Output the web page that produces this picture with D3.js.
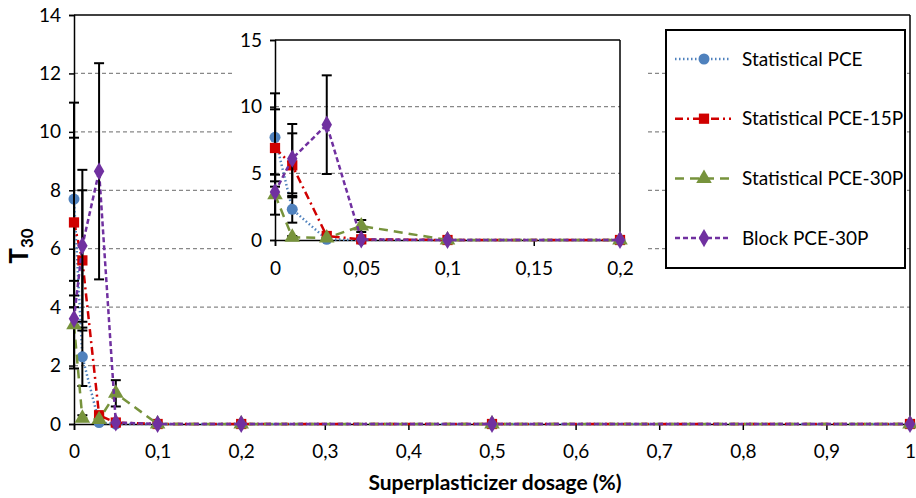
<!DOCTYPE html>
<html>
<head>
<meta charset="utf-8">
<script src="https://cdn.jsdelivr.net/npm/d3@7"></script>
<style>
  body { margin: 0; background: #fff; }
  text { font-family: Lato, "Open Sans", sans-serif; fill: #000; }
</style>
</head>
<body>
<div id="wrapper"></div>
<script>
// dosages (%) and T30 values
const dosages = [0, 0.01, 0.03, 0.05, 0.1, 0.2, 0.5, 1];
const pceVals = [7.7, 2.3, 0.05, 0, 0, 0, 0, 0];
const pceErr = [3.3, 1.0, 0, 0, 0, 0, 0, 0];
const pce15Vals = [6.9, 5.6, 0.3, 0.05, 0, 0, 0, 0];
const pce15Err = [2.9, 2.4, 0, 0, 0, 0, 0, 0];
const pce30Vals = [3.4, 0.2, 0.15, 1.05, 0, 0, 0, 0];
const pce30Err = [1.5, 0.1, 0, 0.45, 0, 0, 0, 0];
const blockVals = [3.6, 6.1, 8.65, 0.05, 0, 0, 0, 0];
const blockErr = [0, 2.6, 3.7, 0, 0, 0, 0, 0];

const seriesNames = ["Statistical PCE", "Statistical PCE-15P", "Statistical PCE-30P", "Block PCE-30P"];
const mainXTicks = [0, 0.1, 0.2, 0.3, 0.4, 0.5, 0.6, 0.7, 0.8, 0.9, 1];
const mainYTicks = [0, 2, 4, 6, 8, 10, 12, 14];
const insetXTicks = [0, 0.05, 0.1, 0.15, 0.2];
const insetYTicks = [0, 5, 10, 15];

const series = [
  { name: seriesNames[0], vals: pceVals, err: pceErr, color: "#4F81BD", dash: "1.5,2.5", symbol: d3.symbolCircle, size: 95 },
  { name: seriesNames[1], vals: pce15Vals, err: pce15Err, color: "#D00000", dash: "8,4,2,4", symbol: d3.symbolSquare, size: 105 },
  { name: seriesNames[2], vals: pce30Vals, err: pce30Err, color: "#77933C", dash: "9,6", symbol: d3.symbolTriangle, size: 105 },
  { name: seriesNames[3], vals: blockVals, err: blockErr, color: "#7030A0", dash: "5,3", symbol: d3.symbolDiamond, size: 95 }
];

const fmt = d => String(d).replace(".", ",");

const width = 916, height = 498;
const svg = d3.select("#wrapper").append("svg")
  .attr("width", width)
  .attr("height", height);

// main chart
const x = d3.scaleLinear().domain([0, 1]).range([74, 910]);
const y = d3.scaleLinear().domain([0, 14]).range([424, 15]);

function drawPanel(g, xs, ys, xMax, yTicks, xTicks, xPad) {
  const left = xs.range()[0], right = xs.range()[1];
  const bottom = ys.range()[0], top = ys.range()[1];
  // grid
  g.selectAll(".grid").data(yTicks.slice(1, -1)).join("line")
    .attr("x1", left).attr("x2", right)
    .attr("y1", d => ys(d)).attr("y2", d => ys(d))
    .attr("stroke", "#888").attr("stroke-width", 1.2).attr("stroke-dasharray", "4,3");
  // frame top / right
  g.append("line").attr("x1", left).attr("x2", right).attr("y1", top).attr("y2", top)
    .attr("stroke", "#000").attr("stroke-width", 1.5);
  g.append("line").attr("x1", right).attr("x2", right).attr("y1", top).attr("y2", bottom)
    .attr("stroke", "#000").attr("stroke-width", 1.5);

  const yAxis = g.append("g").attr("transform", `translate(${left},0)`)
    .call(d3.axisLeft(ys).tickValues(yTicks).tickSize(5).tickPadding(8).tickFormat(fmt));
  const xAxis = g.append("g").attr("transform", `translate(0,${bottom})`)
    .call(d3.axisBottom(xs).tickValues(xTicks).tickSize(6).tickPadding(xPad).tickFormat(fmt));
  [xAxis, yAxis].forEach(a => {
    a.select(".domain").attr("stroke", "#000").attr("stroke-width", 1.5);
    a.selectAll(".tick line").attr("stroke", "#000").attr("stroke-width", 1.5);
    a.selectAll("text").style("font-size", "19px").attr("fill", "#000");
  });

  series.forEach(s => {
    const pts = dosages.map((d, i) => ({ x: d, v: s.vals[i], e: s.err[i] })).filter(p => p.x <= xMax);
    g.append("path").datum(pts)
      .attr("fill", "none")
      .attr("stroke", s.color)
      .attr("stroke-width", 2.5)
      .attr("stroke-dasharray", s.dash)
      .attr("d", d3.line().x(p => xs(p.x)).y(p => ys(p.v)));
    const eb = g.append("g").selectAll("g").data(pts.filter(p => p.e > 0)).join("g");
    eb.append("line")
      .attr("x1", p => xs(p.x)).attr("x2", p => xs(p.x))
      .attr("y1", p => ys(p.v - p.e)).attr("y2", p => ys(p.v + p.e))
      .attr("stroke", "#000").attr("stroke-width", 2);
    [-1, 1].forEach(sg => {
      eb.append("line")
        .attr("x1", p => xs(p.x) - 5).attr("x2", p => xs(p.x) + 5)
        .attr("y1", p => ys(p.v + sg * p.e)).attr("y2", p => ys(p.v + sg * p.e))
        .attr("stroke", "#000").attr("stroke-width", 2);
    });
    g.append("g").selectAll("path").data(pts).join("path")
      .attr("transform", p => `translate(${xs(p.x)},${ys(p.v)})`)
      .attr("d", d3.symbol().type(s.symbol).size(s.size))
      .attr("fill", s.color);
  });
}

drawPanel(svg.append("g"), x, y, 1, mainYTicks, mainXTicks, 15);

// axis titles
svg.append("text")
  .attr("x", 495).attr("y", 490)
  .attr("text-anchor", "middle")
  .style("font-size", "21px").style("font-weight", "bold")
  .text("Superplasticizer dosage (%)");

const yTitle = svg.append("text")
  .attr("transform", "translate(28,246) rotate(-90)")
  .attr("text-anchor", "middle")
  .style("font-weight", "bold");
yTitle.append("tspan").style("font-size", "26px").text("T");
yTitle.append("tspan").style("font-size", "17px").attr("dy", 5).text("30");

// inset
svg.append("rect").attr("x", 232).attr("y", 22).attr("width", 416).attr("height", 268).attr("fill", "#fff");
const xi = d3.scaleLinear().domain([0, 0.2]).range([275, 620]);
const yi = d3.scaleLinear().domain([0, 15]).range([240, 40]);
drawPanel(svg.append("g"), xi, yi, 0.2, insetYTicks, insetXTicks, 16);

// legend
const lg = svg.append("g");
lg.append("rect").attr("x", 666).attr("y", 30).attr("width", 239).attr("height", 238)
  .attr("fill", "#fff").attr("stroke", "#000").attr("stroke-width", 2);
series.forEach((s, i) => {
  const cy = 59 + i * 59.7;
  lg.append("line").attr("x1", 675).attr("x2", 731).attr("y1", cy).attr("y2", cy)
    .attr("stroke", s.color).attr("stroke-width", 2.5).attr("stroke-dasharray", s.dash);
  lg.append("path").attr("transform", `translate(704,${cy})`)
    .attr("d", d3.symbol().type(s.symbol).size(s.size)).attr("fill", s.color);
  lg.append("text").attr("x", 742).attr("y", cy).attr("dy", "0.35em")
    .style("font-size", "19px").text(s.name);
});
</script>
</body>
</html>
